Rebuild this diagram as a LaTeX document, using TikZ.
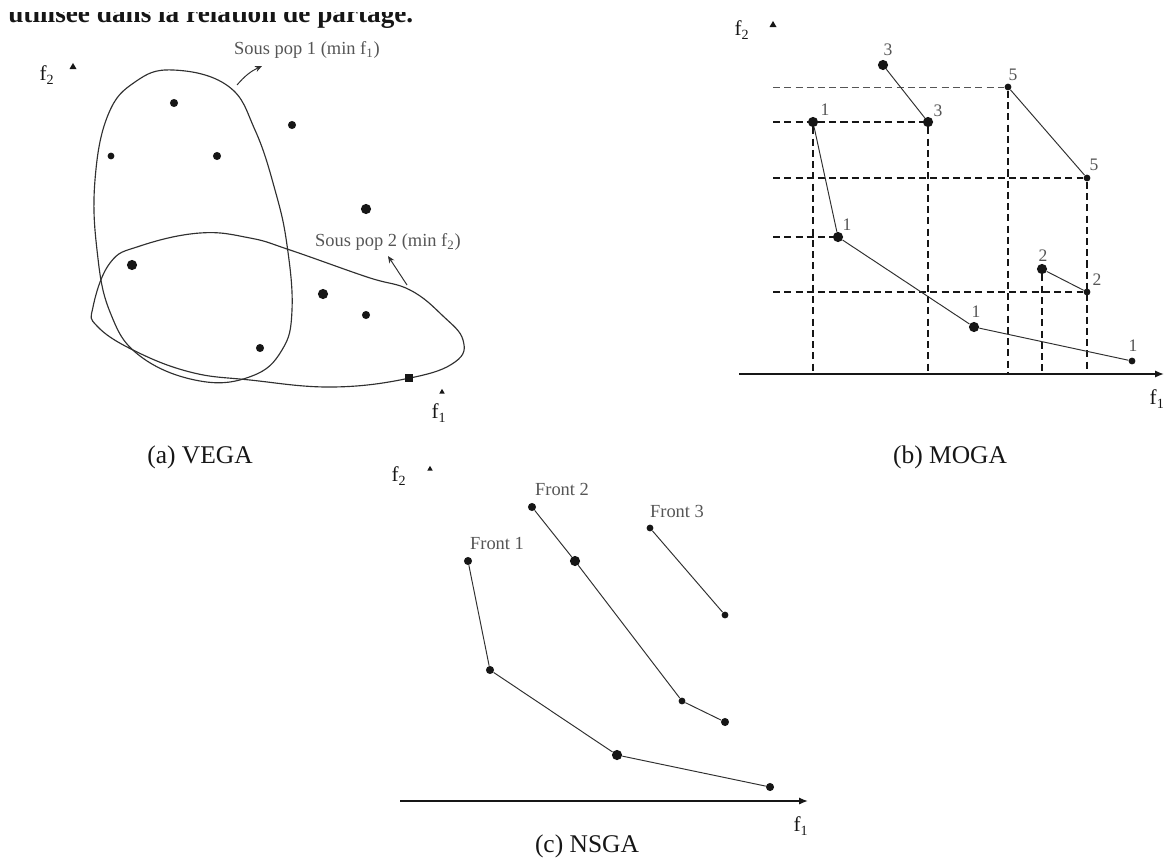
\documentclass[tikz,border=0pt]{standalone}
\usepackage{fontspec}
\setmainfont{Liberation Serif}
\usetikzlibrary{arrows.meta,shapes.geometric,calc}
\definecolor{ink}{HTML}{161616}
\definecolor{pencil}{HTML}{303030}
\definecolor{lead}{HTML}{555555}
\tikzset{ptbig/.style={circle,fill=ink,inner sep=0pt,minimum size=5.8pt},
ptmid/.style={circle,fill=ink,inner sep=0pt,minimum size=4.6pt},
ptsmall/.style={circle,fill=ink,inner sep=0pt,minimum size=3.9pt},
ptsq/.style={rectangle,fill=ink,inner sep=0pt,minimum size=4.6pt},
uptick/.style={regular polygon,regular polygon sides=3,fill=ink,inner sep=0pt,minimum size=4.6pt},
blob/.style={draw=pencil,line width=.65pt},
frontline/.style={draw=pencil,line width=.55pt},
guideline/.style={draw=ink,line width=.75pt,dash pattern=on 4pt off 2.4pt},
faintguide/.style={draw=lead,line width=.5pt,dash pattern=on 4pt off 2.4pt},
axisline/.style={draw=ink,line width=.9pt,-{Latex[length=5pt,width=4pt]}},
notearrow/.style={draw=pencil,line width=.55pt,-{Stealth[length=4pt,width=3.4pt]}},
lbl/.style={font=\fontsize{10.5}{12}\selectfont,text=lead,inner sep=0pt},
num/.style={font=\fontsize{10}{11}\selectfont,text=lead,inner sep=0pt},
axlbl/.style={font=\fontsize{12}{13}\selectfont,text=ink,inner sep=0pt},
captext/.style={font=\fontsize{14.5}{16}\selectfont,text=ink,inner sep=0pt}}
\begin{document}
\begin{tikzpicture}[x=0.02cm,y=-0.02cm]
\useasboundingbox (0,0) rectangle (1165,859);
\begin{scope}
\clip (0,12) rectangle (1165,32);
\node[anchor=base west,font=\fontsize{15.5}{17}\selectfont\bfseries,text=ink,inner sep=0pt] (topline) at (8,22) {utilisée dans la relation de partage.};
\end{scope}
% (a) VEGA
\node[axlbl] (vf2) at (47,75) {f\textsubscript{2}};
\node[uptick] (vup) at (73,67) {};
\node[axlbl] (vf1) at (439,413) {f\textsubscript{1}};
\node[uptick,minimum size=3.6pt] (vright) at (442,392) {};
\draw[blob] plot[smooth cycle,tension=.7] coordinates {(173,70) (228,86) (255,130) (275,190) (287,245) (292,310) (282,350) (252,376) (200,381) (140,356) (110,312) (97,250) (95,180) (108,115) (135,82)};
\draw[blob] plot[smooth cycle,tension=.7] coordinates {(93,307) (110,263) (140,246) (200,233) (250,238) (290,250) (367,277) (410,290) (443,316) (463,340) (455,362) (410,378) (333,387) (250,380) (190,372) (133,350) (97,326)};
\node[ptmid] (va1) at (174,103) {};
\node[ptmid] (va2) at (292,125) {};
\node[ptsmall] (va3) at (111,156) {};
\node[ptmid] (va4) at (217,156) {};
\node[ptbig] (va5) at (366,209) {};
\node[ptbig] (va6) at (132,265) {};
\node[ptbig] (va7) at (323,294) {};
\node[ptmid] (va8) at (366,315) {};
\node[ptmid] (va9) at (260,348) {};
\node[ptsq] (va10) at (409,378) {};
\node[lbl] (sp1) at (307,50) {Sous pop 1 (min f\textsubscript{1})};
\coordinate (sp1foot) at (237,85);
\coordinate (sp1tip) at (262,66);
\draw[notearrow] (sp1foot) to[bend left=12] (sp1tip);
\node[lbl] (sp2) at (388,242) {Sous pop 2 (min f\textsubscript{2})};
\coordinate (sp2foot) at (407,285);
\coordinate (sp2tip) at (388,256);
\draw[notearrow] (sp2foot) -- (sp2tip);
\node[captext] (capa) at (200,457) {(a) VEGA};
% (b) MOGA
\node[axlbl] (mf2) at (742,30) {f\textsubscript{2}};
\node[uptick] (mup) at (773,25) {};
\coordinate (mO) at (739,374);
\coordinate (mEnd) at (1164,374);
\coordinate (mLeft) at (773,0);
\draw[axisline] (mO) -- (mEnd);
\node[axlbl,anchor=east] (mf1) at (1165,399) {f\textsubscript{1}};
\node[ptbig] (m3a) at (883,65) {};
\node[ptbig] (m1a) at (813,122) {};
\node[ptbig] (m3b) at (928,122) {};
\node[ptsmall] (m5a) at (1008,87) {};
\node[ptsmall] (m5b) at (1087,178) {};
\node[ptbig] (m1b) at (838,237) {};
\node[ptbig] (m2a) at (1042,269) {};
\node[ptsmall] (m2b) at (1087,292) {};
\node[ptbig] (m1c) at (974,327) {};
\node[ptsmall] (m1d) at (1132,361) {};
\draw[faintguide] (m5a -| mLeft) -- (m5a);
\draw[guideline] (m5a) -- (m5a |- mO);
\draw[guideline] (m1a -| mLeft) -- (m3b) -- (m3b |- mO);
\draw[guideline] (m1a) -- (m1a |- mO);
\draw[guideline] (m5b -| mLeft) -- (m5b) -- (m5b |- mO);
\draw[guideline] (m1b -| mLeft) -- (m1b);
\draw[guideline] (m2b -| mLeft) -- (m2b);
\draw[guideline] (m2a) -- (m2a |- mO);
\draw[frontline] (m3a) -- (m3b);
\draw[frontline] (m5a) -- (m5b);
\draw[frontline] (m1a) -- (m1b) -- (m1c) -- (m1d);
\draw[frontline] (m2a) -- (m2b);
\node[num] (m3a-l) at (888,50) {3};
\node[num] (m1a-l) at (825,110) {1};
\node[num] (m3b-l) at (938,111) {3};
\node[num] (m5a-l) at (1013,75) {5};
\node[num] (m5b-l) at (1094,165) {5};
\node[num] (m1b-l) at (847,225) {1};
\node[num] (m2a-l) at (1043,256) {2};
\node[num] (m2b-l) at (1097,280) {2};
\node[num] (m1c-l) at (976,312) {1};
\node[num] (m1d-l) at (1133,346) {1};
\node[captext] (capb) at (950,457) {(b) MOGA};
% (c) NSGA
\node[axlbl] (nf2) at (399,476) {f\textsubscript{2}};
\node[uptick,minimum size=3.6pt] (nup) at (430,469) {};
\coordinate (nO) at (400,801);
\coordinate (nEnd) at (808,801);
\draw[axisline] (nO) -- (nEnd);
\node[axlbl] (nf1) at (801,826) {f\textsubscript{1}};
\node[ptmid] (n11) at (468,561) {};
\node[ptmid] (n12) at (490,670) {};
\node[ptbig] (n13) at (617,755) {};
\node[ptmid] (n14) at (770,787) {};
\node[ptmid] (n21) at (532,507) {};
\node[ptbig] (n22) at (575,561) {};
\node[ptsmall] (n23) at (682,701) {};
\node[ptmid] (n24) at (725,722) {};
\node[ptsmall] (n31) at (650,528) {};
\node[ptsmall] (n32) at (725,615) {};
\draw[frontline] (n11) -- (n12) -- (n13) -- (n14);
\draw[frontline] (n21) -- (n22) -- (n23) -- (n24);
\draw[frontline] (n31) -- (n32);
\node[lbl] (fr1) at (497,543) {Front 1};
\node[lbl] (fr2) at (562,489) {Front 2};
\node[lbl] (fr3) at (677,511) {Front 3};
\node[captext] (capc) at (587,846) {(c) NSGA};
\end{tikzpicture}
\end{document}
